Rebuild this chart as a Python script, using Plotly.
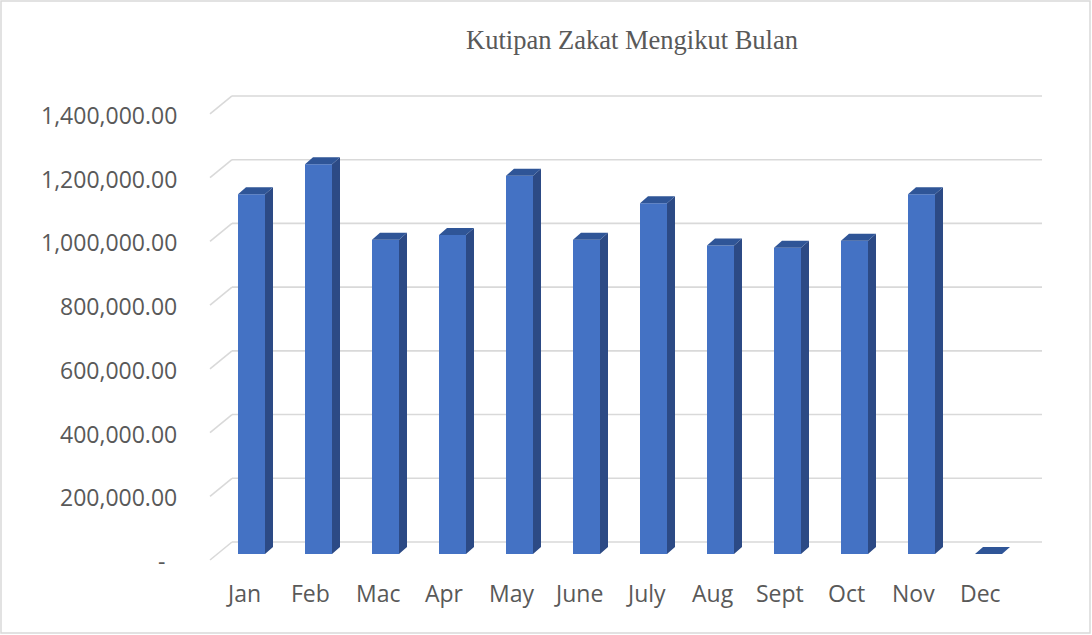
import plotly.graph_objects as go

months = ['Jan', 'Feb', 'Mac', 'Apr', 'May', 'June', 'July', 'Aug', 'Sept', 'Oct', 'Nov', 'Dec']
kutipan = [1129000, 1223000, 986000, 1001000, 1187000, 986000,
           1101000, 968000, 961000, 983000, 1129000, 0]
tick_vals = [0, 200000, 400000, 600000, 800000, 1000000, 1200000, 1400000]
tick_text = ['-', '200,000.00', '400,000.00', '600,000.00', '800,000.00',
             '1,000,000.00', '1,200,000.00', '1,400,000.00']

# page / plot geometry (pixels)
W, H = 1092, 635
ML, MR, MT, MB = 150, 40, 60, 35
PX_X = 67.0            # px per month
PX_Y = 318.6 / 1e6     # px per ringgit
X0_PX = 251.5          # centre of Jan front face
Y0_PX = 554            # zero line of bar front plane

x_range = [(ML - X0_PX) / PX_X, (W - MR - X0_PX) / PX_X]
y_range = [-(H - MB - Y0_PX) / PX_Y, (Y0_PX - MT) / PX_Y]

def ux(px):
    return px / PX_X

def uy(px):
    return px / PX_Y

hw = ux(27) / 2        # half width of bar front
sx, sy = ux(8), uy(7)  # depth of the 3d bar

# back wall / slanted gridlines
wall_x0 = ux(232 - X0_PX)
wall_x1 = ux(1042 - X0_PX)
lab_x = ux(210 - X0_PX)
wall_dy = uy(12)
lab_dy = uy(6)

shapes = []
for t in tick_vals:
    shapes.append(dict(type='line', xref='x', yref='y', layer='below',
                       x0=wall_x0, x1=wall_x1, y0=t + wall_dy, y1=t + wall_dy,
                       line=dict(color='#D9D9D9', width=1.6)))
    shapes.append(dict(type='line', xref='x', yref='y', layer='below',
                       x0=lab_x, x1=wall_x0, y0=t - lab_dy, y1=t + wall_dy,
                       line=dict(color='#D9D9D9', width=1.6)))
# chart border
shapes.append(dict(type='rect', xref='paper', yref='paper',
                   x0=(1 - ML) / (W - ML - MR), x1=(W - 2 - ML) / (W - ML - MR),
                   y0=-(MB - 2) / (H - MT - MB), y1=1 + (MT - 1) / (H - MT - MB),
                   line=dict(color='#D9D9D9', width=1.5)))

# side and top faces
side_x, side_y, top_x, top_y = [], [], [], []
for i, v in enumerate(kutipan):
    side_x += [i + hw, i + hw + sx, i + hw + sx, i + hw, i + hw, None]
    side_y += [0, sy, v + sy, v, 0, None]
    top_x += [i - hw, i + hw, i + hw + sx, i - hw + sx, i - hw, None]
    top_y += [v, v, v + sy, v + sy, v, None]

front = go.Bar(x=list(range(len(months))), y=kutipan, width=2 * hw,
               marker=dict(color='#4472C4', line=dict(width=0)), hoverinfo='skip')
side = go.Scatter(x=side_x, y=side_y, mode='lines', fill='toself',
                  fillcolor='#2C4A85', line=dict(width=0, color='#2C4A85'), hoverinfo='skip')
top = go.Scatter(x=top_x, y=top_y, mode='lines', fill='toself',
                 fillcolor='#2F5597', line=dict(width=0, color='#2F5597'), hoverinfo='skip')

annotations = []
for t, txt in zip(tick_vals, tick_text):
    annotations.append(dict(x=ux(179 - X0_PX), y=t, xref='x', yref='y', text=txt,
                            showarrow=False, xanchor='right', yanchor='middle',
                            xshift=-12 if txt == '-' else 0, yshift=-7,
                            font=dict(family='Open Sans', size=23, color='#595959')))
for i, m in enumerate(months):
    annotations.append(dict(x=i, y=0, xref='x', yref='y', text=m, showarrow=False,
                            xanchor='center', yanchor='middle', xshift=-8, yshift=-39,
                            font=dict(family='Open Sans', size=23, color='#595959')))

layout = go.Layout(
    width=W, height=H,
    margin=dict(l=ML, r=MR, t=MT, b=MB),
    title=dict(text='Kutipan Zakat Mengikut Bulan', x=(632 - ML) / (W - ML - MR),
               xref='paper', xanchor='center', y=1 - 40 / H, yanchor='middle',
               font=dict(family='Liberation Serif', size=26.5, color='#595959')),
    xaxis=dict(range=x_range, showgrid=False, zeroline=False, showticklabels=False,
               fixedrange=True),
    yaxis=dict(range=y_range, showgrid=False, zeroline=False, showticklabels=False,
               fixedrange=True),
    shapes=shapes,
    annotations=annotations,
    showlegend=False,
    plot_bgcolor='white',
    paper_bgcolor='white',
)

fig = go.Figure(data=[front, side, top], layout=layout)
# drop the browser's default body margin so the figure sits at the page corner
fig.write_html('out.html', config={'displayModeBar': False},
               post_script="document.body.style.margin = '0';")
